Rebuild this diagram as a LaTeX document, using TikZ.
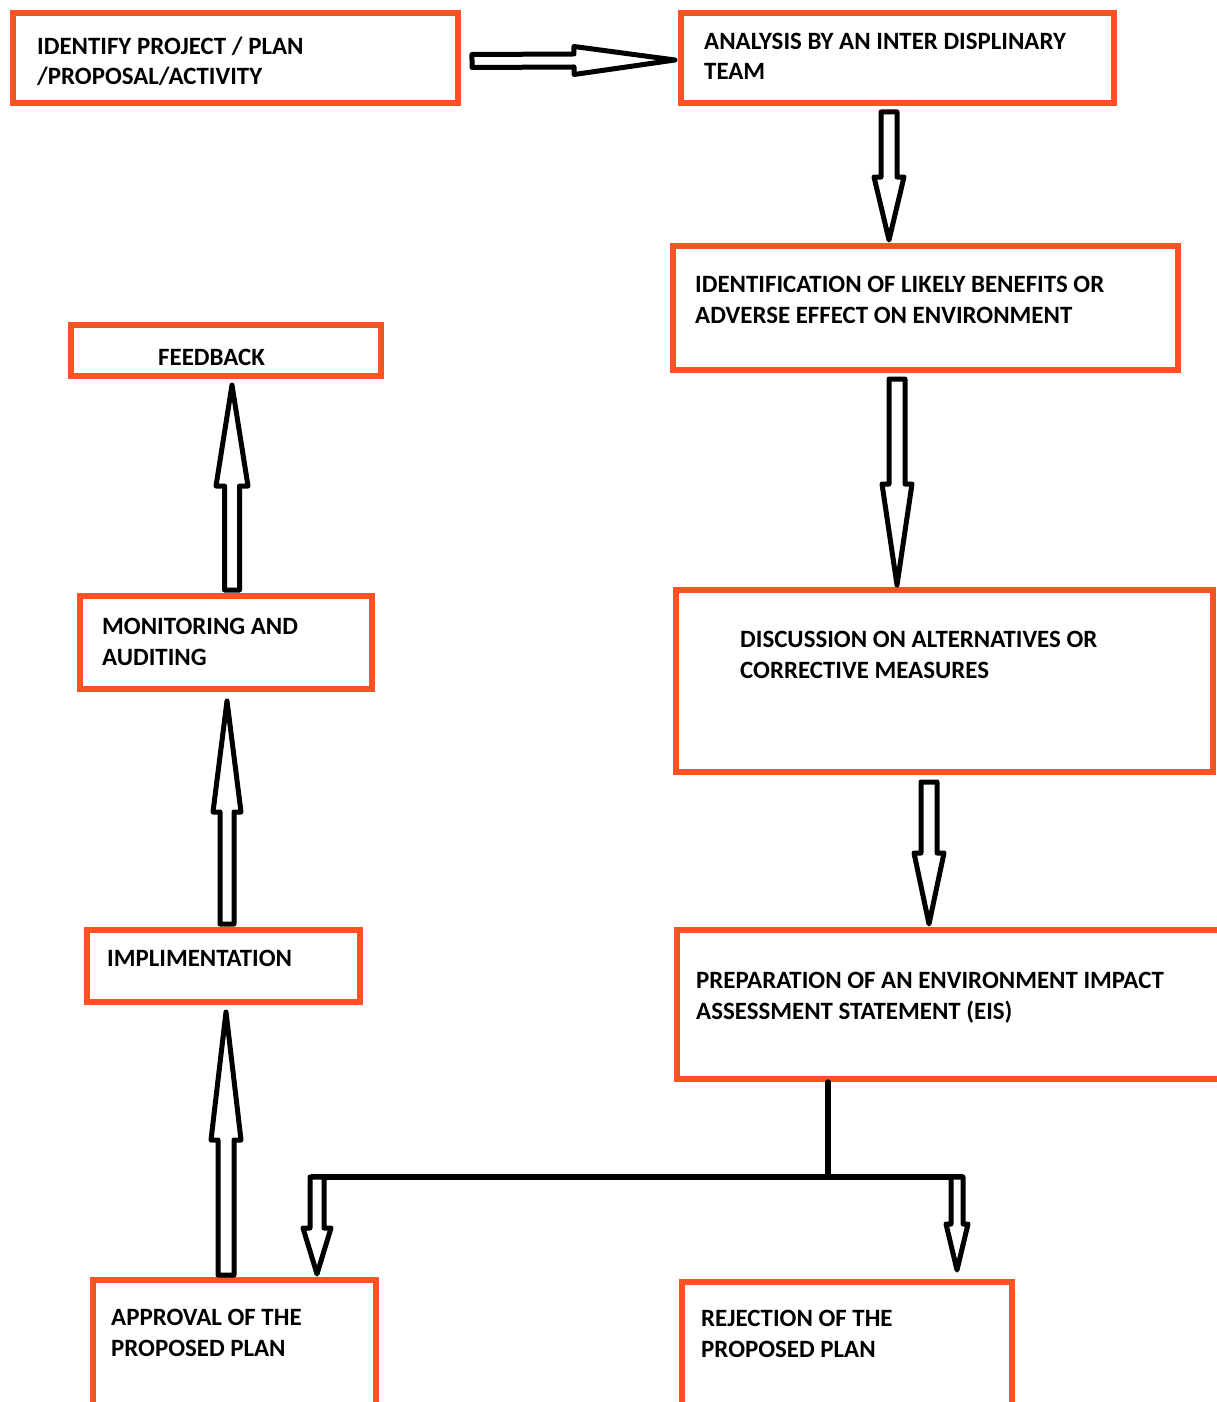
\documentclass[tikz,border=0pt]{standalone}
\usepackage{fontspec}
\setmainfont{Carlito}
\usetikzlibrary{calc}
\definecolor{boxred}{RGB}{255,82,36}
\tikzset{
  box/.style={draw=boxred, line width=6pt, inner sep=0pt, outer sep=0pt, anchor=north west, rectangle},
  lbl/.style={anchor=base west, inner sep=0pt, align=left, font=\fontsize{24.9}{30.5}\selectfont\bfseries, text=black},
  arrline/.style={draw=black, line width=5pt, fill=white, line join=round},
  barline/.style={draw=black, line width=5.5pt, line cap=round},
}
% #1 start, #2 tip, #3 shaft half width, #4 head half width, #5 head length
\newcommand\blockarrow[5]{%
  \coordinate (hb) at ($(#2)!#5!(#1)$);
  \draw[arrline] ($(#1)!#3!90:(#2)$) -- ($(hb)!#3!90:(#2)$) -- ($(hb)!#4!90:(#2)$) -- (#2)
     -- ($(hb)!#4!-90:(#2)$) -- ($(hb)!#3!-90:(#2)$) -- ($(#1)!#3!-90:(#2)$) -- cycle;
}
\begin{document}
\begin{tikzpicture}[x=1pt,y=-1pt]
\useasboundingbox (0,0) rectangle (1217,1402);
\clip (0,0) rectangle (1217,1402);
\fill[white] (0,0) rectangle (1217,1402);

% boxes
\node[box, minimum width=445pt, minimum height=90pt] (b1) at (13,13) {};
\node[box, minimum width=433pt, minimum height=90pt] (b2) at (681,13) {};
\node[box, minimum width=505pt, minimum height=124pt] (b3) at (673,246) {};
\node[box, minimum width=310pt, minimum height=51pt] (b4) at (71,325) {};
\node[box, minimum width=537pt, minimum height=182pt] (b5) at (676,590) {};
\node[box, minimum width=292pt, minimum height=93pt] (b6) at (80,596) {};
\node[box, minimum width=273pt, minimum height=72pt] (b7) at (87,930) {};
\node[box, minimum width=560pt, minimum height=149pt] (b8) at (677,930) {};
\node[box, minimum width=283pt, minimum height=150pt] (b9) at (93,1280) {};
\node[box, minimum width=330pt, minimum height=150pt] (b10) at (682,1282) {};

% texts (base anchor = baseline of the last line)
\node[lbl] (t1) at (37,85) {IDENTIFY PROJECT / PLAN\\/PROPOSAL/ACTIVITY};
\node[lbl] (t2) at (704,80) {ANALYSIS BY AN INTER DISPLINARY\\TEAM};
\node[lbl] (t3) at (695,323) {IDENTIFICATION OF LIKELY BENEFITS OR\\ADVERSE EFFECT ON ENVIRONMENT};
\node[lbl] (t4) at (158,365) {FEEDBACK};
\node[lbl] (t5) at (740,678) {DISCUSSION ON ALTERNATIVES OR\\CORRECTIVE MEASURES};
\node[lbl] (t6) at (102,665) {MONITORING AND\\AUDITING};
\node[lbl] (t7) at (107,966) {IMPLIMENTATION};
\node[lbl] (t8) at (696,1019) {PREPARATION OF AN ENVIRONMENT IMPACT\\ASSESSMENT STATEMENT (EIS)};
\node[lbl] (t9) at (111,1356) {APPROVAL OF THE\\PROPOSED PLAN};
\node[lbl] (t10) at (701,1357) {REJECTION OF THE\\PROPOSED PLAN};

% arrow end points
\coordinate (a1s) at (472,61);  \coordinate (a1e) at (675,60);
\coordinate (a2s) at (889,112); \coordinate (a2e) at (889,240);
\coordinate (a3s) at (897,379); \coordinate (a3e) at (897,585);
\coordinate (a4s) at (929,782); \coordinate (a4e) at (929,924);
\coordinate (a5s) at (232,590); \coordinate (a5e) at (232,385);
\coordinate (a6s) at (227,924); \coordinate (a6e) at (227,701);
\coordinate (a7s) at (226,1275); \coordinate (a7e) at (226,1012);
\coordinate (br0) at (828,1082);
\coordinate (br1) at (828,1177);
\coordinate (brl) at (312,1177);
\coordinate (brr) at (962,1177);
\coordinate (a8s) at (317,1177); \coordinate (a8e) at (317,1274);
\coordinate (a9s) at (957,1177); \coordinate (a9e) at (957,1270);

\blockarrow{a1s}{a1e}{6.5pt}{14pt}{101pt}
\blockarrow{a2s}{a2e}{8pt}{15pt}{63pt}
\blockarrow{a3s}{a3e}{8pt}{15pt}{101pt}
\blockarrow{a4s}{a4e}{8pt}{15pt}{71pt}
\blockarrow{a5s}{a5e}{7.5pt}{16pt}{101pt}
\blockarrow{a6s}{a6e}{7pt}{14pt}{111pt}
\blockarrow{a7s}{a7e}{8pt}{15pt}{128pt}

\draw[barline] (br0) -- (br1);
\draw[barline] (brl) -- (brr);
\blockarrow{a8s}{a8e}{7pt}{14pt}{46pt}
\blockarrow{a9s}{a9e}{6pt}{11pt}{46pt}
\end{tikzpicture}
\end{document}
